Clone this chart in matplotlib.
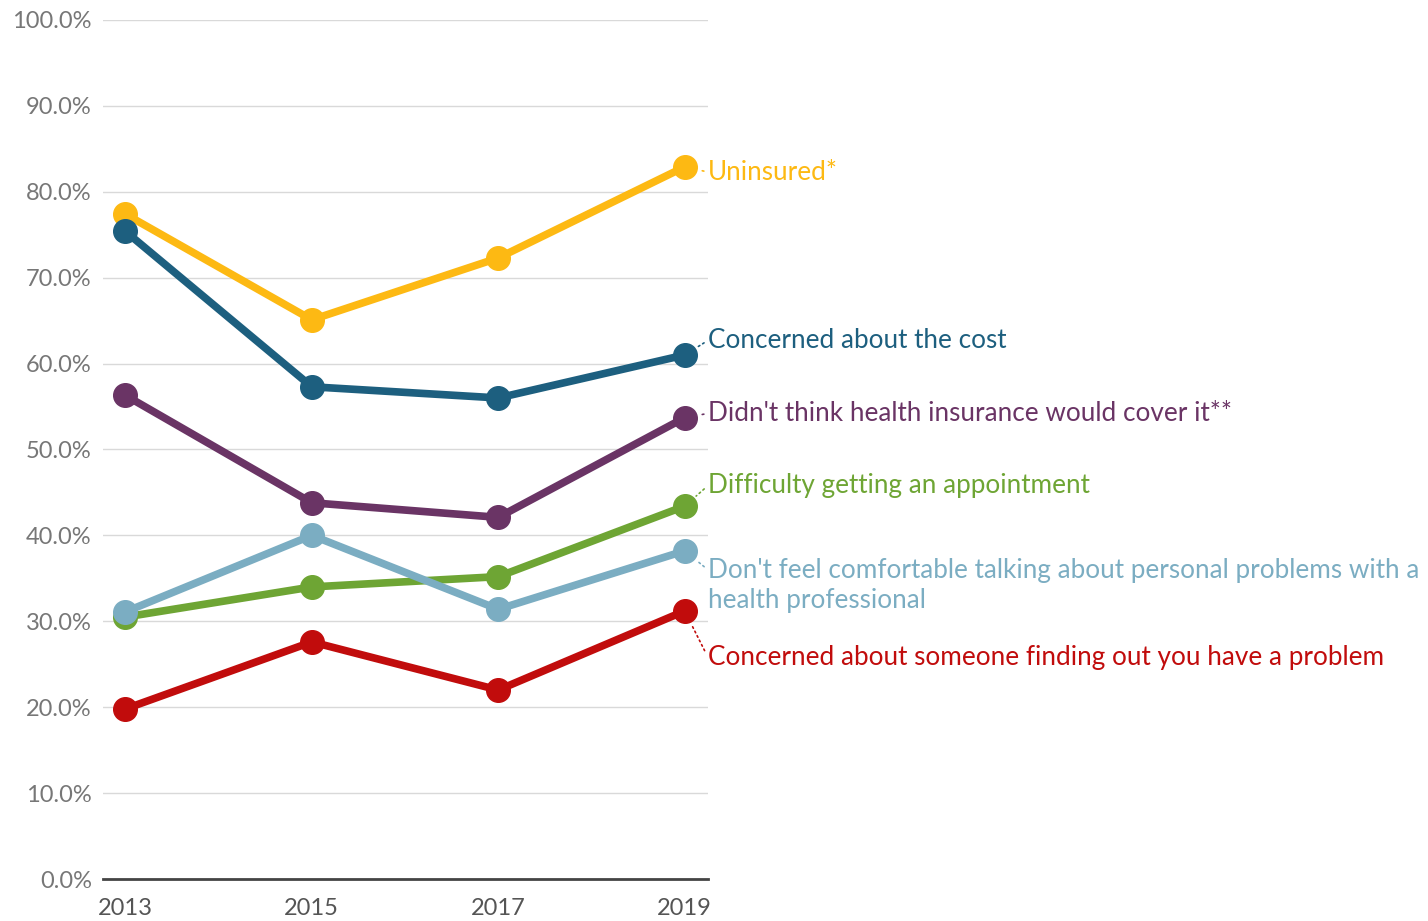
import matplotlib.pyplot as plt
from matplotlib.ticker import FuncFormatter

# ── data ───────────────────────────────────────────────────────────
years = [2013, 2015, 2017, 2019]

uninsured   = [77.4, 65.1, 72.3, 82.9]
cost        = [75.4, 57.3, 56.0, 61.0]
not_covered = [56.3, 43.8, 42.1, 53.7]
appointment = [30.5, 34.0, 35.2, 43.4]
comfortable = [31.1, 40.0, 31.4, 38.2]
finding_out = [19.8, 27.6, 22.0, 31.2]

labels = [
    "Uninsured*",
    "Concerned about the cost",
    "Didn't think health insurance would cover it**",
    "Difficulty getting an appointment",
    "Don't feel comfortable talking about personal problems with a\nhealth professional",
    "Concerned about someone finding out you have a problem",
]
colors = ["#FDB913", "#1D5F7F", "#6A3465", "#6EA534", "#7BADC2", "#C10C0C"]
# label anchor heights (in % units) next to the last point
label_y = [82.3, 62.7, 54.2, 45.8, 34.2, 25.8]
# where along the label's height the leader line meets it
leader_rel = [0.5, 0.5, 0.5, 0.5, 0.78, 0.5]

series = [uninsured, cost, not_covered, appointment, comfortable, finding_out]

plt.rcParams["font.family"] = ["Lato", "DejaVu Sans"]

fig = plt.figure(figsize=(14.28, 9.21), dpi=100)
ax = fig.add_axes([0.0721, 0.0456, 0.4237, 0.9327])

# ── grid ───────────────────────────────────────────────────────────
ax.set_ylim(0, 100)
ax.set_xlim(2012.76, 2019.25)
ax.set_yticks(range(0, 101, 10))
ax.yaxis.set_major_formatter(FuncFormatter(lambda v, _: f"{v:.1f}%"))
ax.set_xticks(years)
ax.grid(axis="y", color="#d9d9d9", lw=1)
ax.set_axisbelow(True)
for s in ("top", "right", "left"):
    ax.spines[s].set_visible(False)
ax.spines["bottom"].set_color("#444444")
ax.spines["bottom"].set_linewidth(2)
ax.tick_params(axis="both", length=0)
ax.tick_params(axis="y", labelsize=17, labelcolor="#777777", pad=8)
ax.tick_params(axis="x", labelsize=17, labelcolor="#555555", pad=14)

# ── lines + labels ─────────────────────────────────────────────────
for vals, col, lab, ly, rel in zip(series, colors, labels, label_y, leader_rel):
    ax.plot(years, vals, color=col, lw=5.5, marker="o", ms=17,
            solid_capstyle="round", zorder=3)
    ax.annotate(lab, xy=(years[-1], vals[-1]), xytext=(2019.25, ly),
                color=col, fontsize=18.8, va="center", ha="left",
                linespacing=1.25, annotation_clip=False,
                arrowprops=dict(arrowstyle="-", color=col, lw=1.2,
                                linestyle=(0, (1, 2)), relpos=(0, rel),
                                shrinkA=1, shrinkB=11))

fig.savefig("out.png", dpi=100)
